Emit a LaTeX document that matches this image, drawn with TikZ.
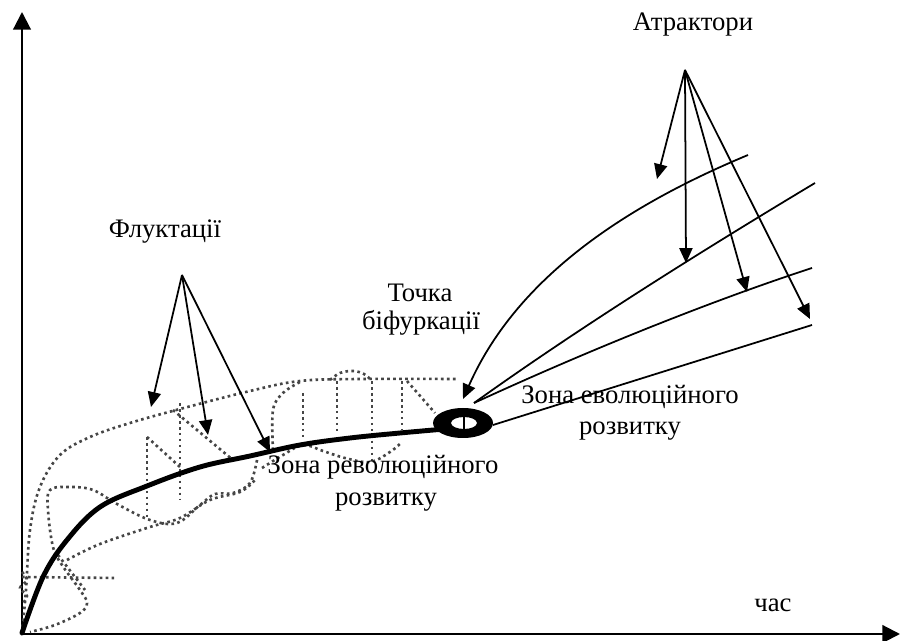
\documentclass[tikz,border=0pt]{standalone}
\usepackage{fontspec}
\setmainfont{Liberation Serif}
\usetikzlibrary{arrows.meta}
\definecolor{fluxgray}{RGB}{70,70,70}
\newcommand{\lblfont}{\fontsize{15.2}{18}\selectfont}
\newcommand{\fluxpath}[1]{\draw[fluxline] plot[smooth,tension=0.6] coordinates {#1};}
\tikzset{
	axisline/.style={line width=1.2pt,-{Triangle[length=10pt,width=10pt]}},
	pointer/.style={line width=1pt,-{Triangle[length=8.5pt,width=7.5pt]}},
	fluxline/.style={fluxgray,line width=1.5pt,dash pattern=on 1.5pt off 1.9pt},
	branch/.style={line width=1pt},
	lbl/.style={font=\lblfont,inner sep=1pt}
}
\begin{document}
\begin{tikzpicture}[x=0.02cm,y=-0.02cm]
		\useasboundingbox (0,0) rectangle (900,641);
		% axes
		\coordinate (orig) at (22,634); \coordinate (ytop) at (22,12); \coordinate (xend) at (900,634);
		\draw[axisline] (orig) -- (ytop);
		\draw[axisline] (orig) -- (xend);
		% fluctuation zone (dotted)
		\fluxpath{(22,633) (26,590) (30,530) (40,487) (60,455) (90,437) (130,423) (180,409) (250,391) (300,381) (360,379) (458,379)}
		\fluxpath{(257,460) (250,483) (233,493) (215,494) (200,505) (177,523) (150,520) (117,504) (93,490) (70,487) (50,490) (48,510) (53,547) (62,565) (80,590) (87,603) (80,613) (55,625) (30,632)}
		\fluxpath{(67,560) (100,544) (150,527) (180,518) (210,500) (240,492) (255,480)}
		\fluxpath{(22,572) (27,580) (20,588) (27,596) (22,604)}
		\draw[fluxline] (22,577) -- (117,578);
		\draw[fluxline] (58,555) -- (85,590);
		\draw[fluxline] (147,437) -- (147,517);
		\draw[fluxline] (147,437) -- (180,467);
		\draw[fluxline] (180,403) -- (180,500);
		\draw[fluxline] (173,410) -- (233,460);
		\fluxpath{(273,450) (273,410) (283,393) (300,382)}
		\fluxpath{(330,380) (340,373) (353,371) (364,374) (372,381)}
		\draw[fluxline] (303,393) -- (303,440);
		\draw[fluxline] (337,381) -- (337,433);
		\draw[fluxline] (372,381) -- (372,463);
		\draw[fluxline] (402,381) -- (402,430);
		\draw[fluxline] (407,381) -- (435,413);
		\fluxpath{(262,468) (283,455) (303,445) (323,451) (345,458) (370,462) (390,452) (402,442)}
		% main trajectory and bifurcation point
		\draw[line width=2.8pt,line cap=round] plot[smooth,tension=0.6] coordinates {(22,633) (43,577) (67,540) (100,507) (147,486) (200,467) (250,456) (300,445) (350,438) (400,433) (445,429)};
		\fill[even odd rule] (463,423) ellipse [x radius=30,y radius=15] (464,423) ellipse [x radius=13,y radius=6];
		\draw[line width=0.8pt] (464,417) -- (464,429);
		\coordinate (bif) at (463,399);
		\coordinate (fork) at (474,403);
		\coordinate (ringE) at (493,425);
		% branches
		\draw[pointer] (748,155) .. controls (640,200) and (520,270) .. (bif);
		\draw[branch] (fork) .. controls (590,320) and (720,240) .. (815,183);
		\draw[branch] (fork) .. controls (600,345) and (720,298) .. (812,268);
		\draw[branch] (ringE) -- (812,325);
		% attractor arrows
		\coordinate (atsrc) at (685,70);
		\draw[pointer] (atsrc) -- (657,179);
		\draw[pointer] (atsrc) -- (686,263);
		\draw[pointer] (atsrc) -- (747,292);
		\draw[pointer] (atsrc) -- (810,319);
		% fluctuation arrows
		\coordinate (flsrc) at (182,275);
		\draw[pointer] (flsrc) -- (151,407);
		\draw[pointer] (flsrc) -- (208,435);
		\draw[pointer] (flsrc) -- (270,452);
		% labels
		\node[lbl] (attr) at (693,25) {Атрактори};
		\node[lbl] (fluct) at (165,232) {Флуктації};
		\node[lbl] (bifA) at (420,293) {Точка};
		\node[lbl] (bifB) at (421,323) {біфуркації};
		\node[lbl] (revA) at (383,467) {Зона революційного};
		\node[lbl] (revB) at (386,502) {розвитку};
		\node[lbl] (evoA) at (630,397) {Зона еволюційного};
		\node[lbl] (evoB) at (630,431) {розвитку};
		\node[lbl] (time) at (773,605) {час};
\end{tikzpicture}
\end{document}
